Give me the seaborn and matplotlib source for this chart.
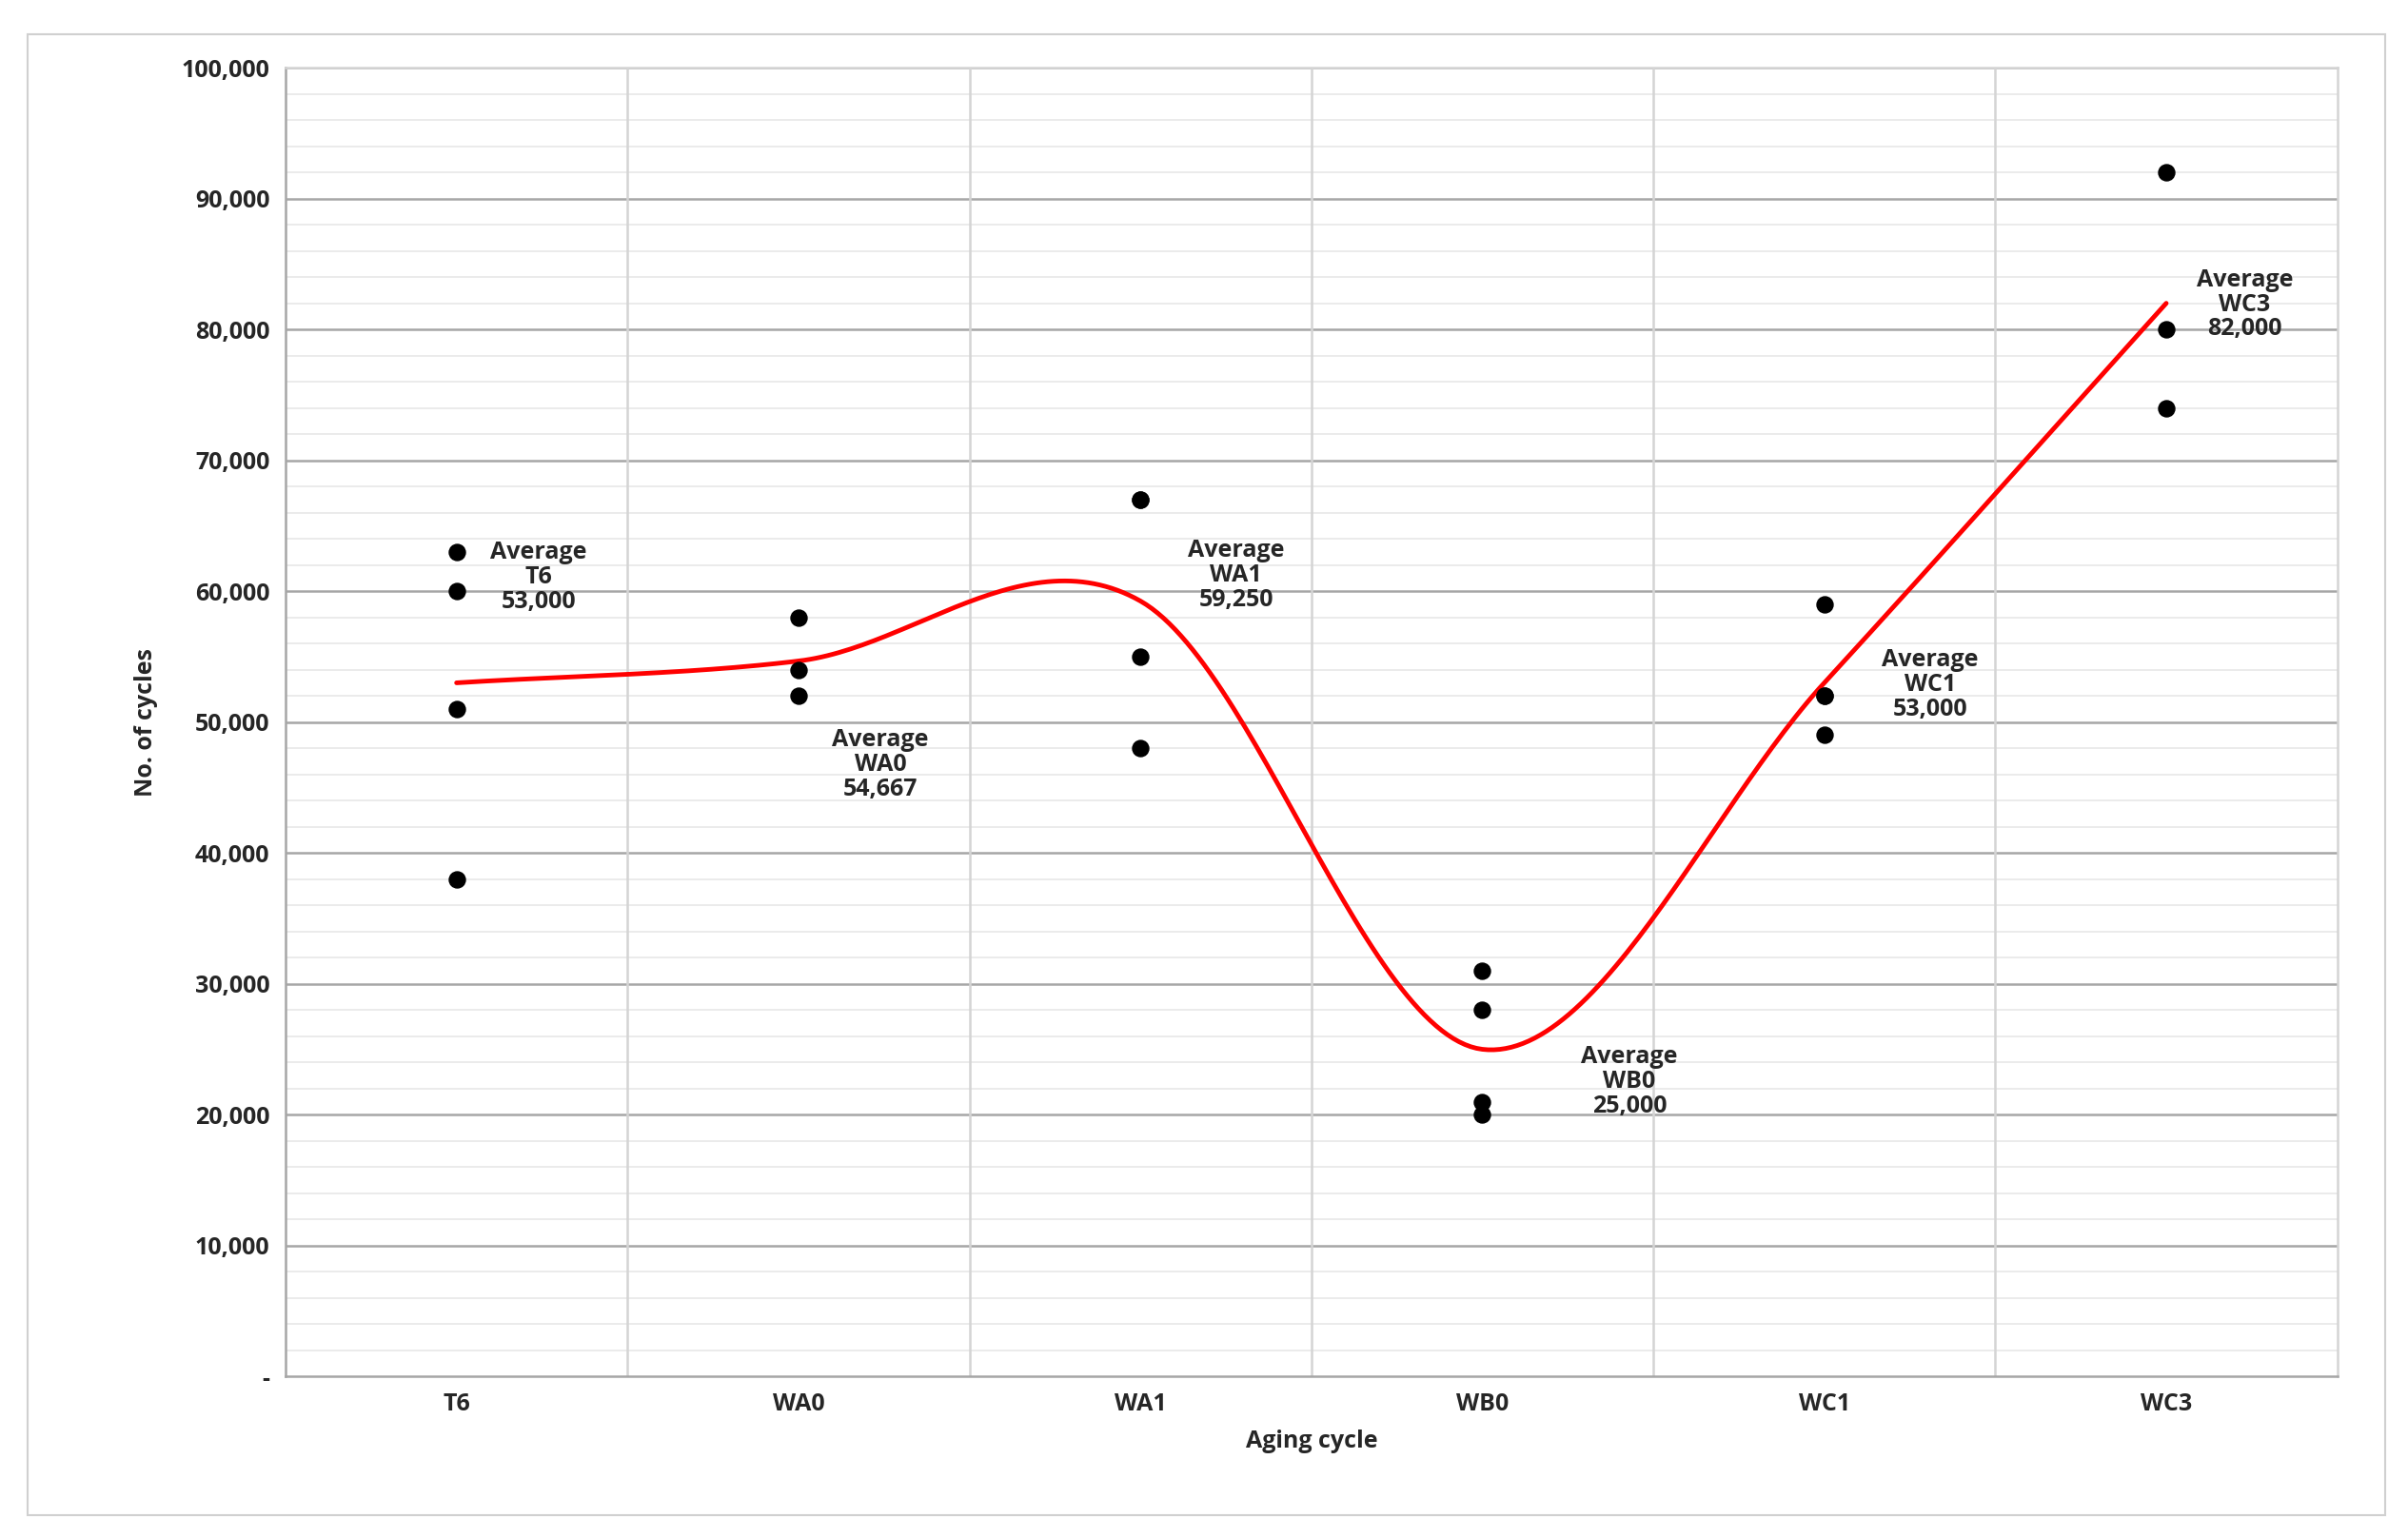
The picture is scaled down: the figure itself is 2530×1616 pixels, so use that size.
import numpy as np
import pandas as pd
import matplotlib.pyplot as plt
import seaborn as sns

categories = ['T6', 'WA0', 'WA1', 'WB0', 'WC1', 'WC3']
samples = {
    'T6': [63000, 60000, 51000, 38000],
    'WA0': [58000, 54000, 52000],
    'WA1': [67000, 67000, 55000, 48000],
    'WB0': [31000, 28000, 21000, 20000],
    'WC1': [59000, 52000, 52000, 49000],
    'WC3': [92000, 80000, 74000],
}
averages = [53000, 54667, 59250, 25000, 53000, 82000]
avg_labels = ['53,000', '54,667', '59,250', '25,000', '53,000', '82,000']
label_pos = [(0.24, 61100), (1.24, 46770), (2.28, 61220),
             (3.43, 22560), (4.31, 52880), (5.23, 81900)]

rows = []
for i, c in enumerate(categories):
    for v in samples[c]:
        rows.append({'pos': i, 'cycles': v})
df = pd.DataFrame(rows)


def catmull_rom(xs, ys, n=60):
    # Excel-style smoothed line through the averages
    px = np.concatenate([[2 * xs[0] - xs[1]], xs, [2 * xs[-1] - xs[-2]]])
    py = np.concatenate([[2 * ys[0] - ys[1]], ys, [2 * ys[-1] - ys[-2]]])
    ox, oy = [], []
    t = np.linspace(0, 1, n)
    for k in range(1, len(px) - 2):
        for p, o in ((px, ox), (py, oy)):
            p0, p1, p2, p3 = p[k - 1], p[k], p[k + 1], p[k + 2]
            o.extend(0.5 * (2 * p1 + (-p0 + p2) * t + (2 * p0 - 5 * p1 + 4 * p2 - p3) * t ** 2
                            + (-p0 + 3 * p1 - 3 * p2 + p3) * t ** 3))
    return np.array(ox), np.array(oy)


sns.set_style('white')
plt.rcParams['font.family'] = ['Open Sans', 'DejaVu Sans']

fig = plt.figure(figsize=(25.3, 16.16), dpi=100)
fig.patches.append(plt.Rectangle((0.0115, 0.015), 0.979, 0.963, transform=fig.transFigure,
                                 fill=False, edgecolor='#d0d0d0', lw=1.5))
ax = fig.add_axes([0.1186, 0.105, 0.852, 0.851])

for y in range(0, 100001, 2000):
    if y % 10000:
        ax.axhline(y, color='#e8e8e8', lw=1.2, zorder=0)
for y in range(10000, 100001, 10000):
    ax.axhline(y, color='#a6a6a6', lw=1.8, zorder=0)
for x in np.arange(0.5, 5.0, 1.0):
    ax.axvline(x, color='#d4d4d4', lw=1.8, zorder=0)

sx, sy = catmull_rom(np.arange(6, dtype=float), np.array(averages, dtype=float))
ax.plot(sx, sy, color='#ff0000', lw=3.5, zorder=2)
sns.scatterplot(data=df, x='pos', y='cycles', color='black', s=150, edgecolor='black',
                zorder=3, ax=ax)

for c, lab, (x, y) in zip(categories, avg_labels, label_pos):
    ax.text(x, y, f'Average\n{c}\n{lab}', ha='center', va='center', fontsize=18,
            fontweight='bold', color='#262626', linespacing=1.05)

ax.set_xlim(-0.5, 5.5)
ax.set_ylim(0, 100000)
ax.set_xticks(range(6))
ax.set_xticklabels(categories)
yt = list(range(0, 100001, 10000))
ax.set_yticks(yt)
ax.set_yticklabels(['-'] + [f'{v:,}' for v in yt[1:]])
ax.tick_params(length=0, labelsize=18, colors='#262626', pad=12)
for lbl in ax.get_xticklabels() + ax.get_yticklabels():
    lbl.set_fontweight('bold')
ax.set_xlabel('Aging cycle', fontsize=18, fontweight='bold', color='#262626', labelpad=10)
ax.set_ylabel('No. of cycles', fontsize=18, fontweight='bold', color='#262626', labelpad=18)
for s in ['left', 'bottom']:
    ax.spines[s].set_color('#a6a6a6')
    ax.spines[s].set_linewidth(1.8)
for s in ['top', 'right']:
    ax.spines[s].set_color('#d4d4d4')
    ax.spines[s].set_linewidth(1.8)

fig.savefig('out.png', dpi=100)
